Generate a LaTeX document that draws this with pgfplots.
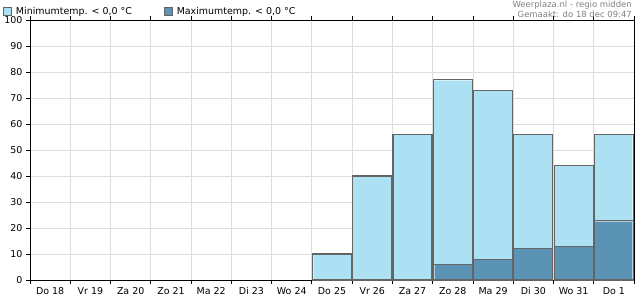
\documentclass[border=0pt]{standalone}
\usepackage{pgfplots}
\pgfplotsset{compat=1.18}
\usepackage{fontspec}
\setmainfont{DejaVu Sans}
\definecolor{minc}{RGB}{171,225,242}
\definecolor{maxc}{RGB}{90,147,180}
\definecolor{barline}{RGB}{100,100,100}
\definecolor{gridc}{RGB}{221,221,221}
\tikzset{barstyle/.style={ybar, bar width=39bp, bar shift=0pt, fill=#1, draw=barline, line width=1.1bp,
  path picture={\draw[path picture={}, fill=none, draw=white!55!#1, line width=2.8bp] (path picture bounding box.south west) rectangle (path picture bounding box.north east);}}}
\begin{document}
\begin{tikzpicture}[x=1bp,y=1bp]
\path[use as bounding box] (0,0) rectangle (635,300);
\begin{axis}[
  at={(30bp,20bp)}, anchor=south west,
  scale only axis, width=604bp, height=260bp,
  xmin=-0.5, xmax=14.5, ymin=0, ymax=100,
  xtick={0,...,14},
  xticklabels={Do 18,Vr 19,Za 20,Zo 21,Ma 22,Di 23,Wo 24,Do 25,Vr 26,Za 27,Zo 28,Ma 29,Di 30,Wo 31,Do 1},
  major x tick style={draw=none},
  minor xtick={-0.5,0.5,...,14.5},
  xminorgrids=true,
  ytick={0,10,...,100},
  ymajorgrids=true,
  grid style={gridc, line width=0.8bp},
  minor grid style={gridc, line width=0.8bp},
  tick align=outside,
  major tick length=4bp, minor tick length=4bp,
  tick style={black, line width=0.8bp},
  axis line style={black, line width=0.8bp},
  ticklabel style={font=\fontsize{9.5}{10}\selectfont},
  /pgf/number format/assume math mode=true,
  xticklabel style={text height=7bp, text depth=2bp, yshift=0bp},
  yticklabel style={xshift=0bp},
  legend style={draw=none, fill=none, at={(-0.0447,1.033)}, anchor=west,
    font=\fontsize{9.5}{10}\selectfont, inner sep=0pt, column sep=2bp,
    /tikz/every even column/.append style={column sep=30bp}},
  legend columns=2,
  legend image code/.code={\draw[#1, path picture={}, draw=barline, line width=0.8bp] (0bp,-4bp) rectangle (8bp,4bp);},
]
\addplot[barstyle=minc] coordinates {
  (7,10) (8,40) (9,56) (10,77) (11,73) (12,56) (13,44) (14,56)
};
\addlegendentry{Minimumtemp. < 0,0 °C}
\addplot[barstyle=maxc] coordinates {
  (10,6) (11,8) (12,12) (13,13) (14,23)
};
\addlegendentry{Maximumtemp. < 0,0 °C}
\end{axis}
\node[anchor=north east, align=right, text=gray, font=\fontsize{8.5}{10}\selectfont, inner sep=0pt] at (632,299.5) {Weerplaza.nl - regio midden\\Gemaakt: do 18 dec 09:47};
\end{tikzpicture}
\end{document}
